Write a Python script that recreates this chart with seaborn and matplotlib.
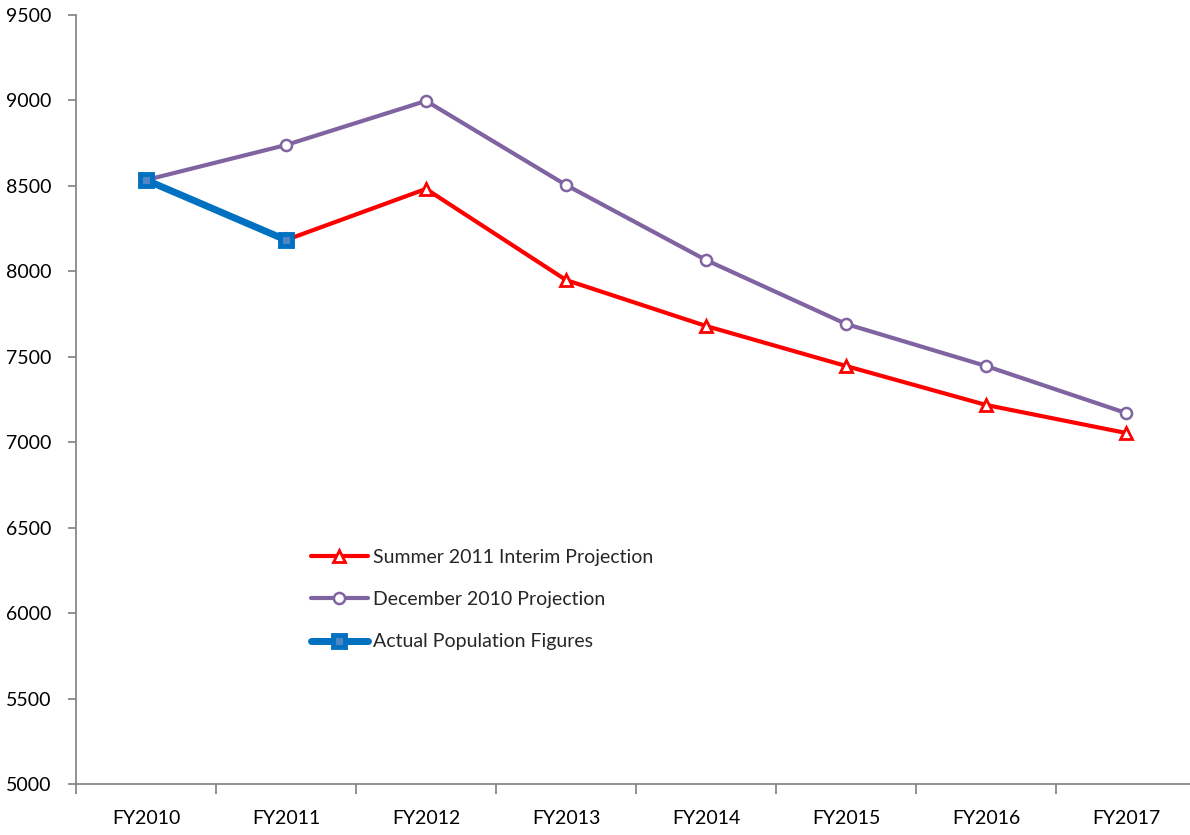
import numpy as np
import pandas as pd
import matplotlib
matplotlib.use("Agg")
import matplotlib.pyplot as plt
import seaborn as sns
from matplotlib.ticker import FixedLocator

sns.set_theme(style="white")
plt.rcParams['font.family'] = ['Lato', 'DejaVu Sans']

years = ['FY2010', 'FY2011', 'FY2012', 'FY2013', 'FY2014', 'FY2015', 'FY2016', 'FY2017']
summer_2011 = [np.nan, 8183, 8482, 7949, 7680, 7446, 7218, 7054]
december_2010 = [8534, 8739, 8997, 8505, 8066, 7692, 7446, 7171]
actual = [8534, 8183, np.nan, np.nan, np.nan, np.nan, np.nan, np.nan]

df = pd.DataFrame({
    'pos': np.arange(len(years)),
    'summer': summer_2011,
    'december': december_2010,
    'actual': actual,
})

fig = plt.figure(figsize=(11.9, 8.35), dpi=100)
ax = fig.add_axes([0.0639, 0.0611, 0.936, 0.921])

sns.lineplot(data=df, x='pos', y='summer', ax=ax, color='#FF0000', linewidth=3,
             marker='^', markersize=8, markerfacecolor='white', markeredgecolor='#FF0000',
             markeredgewidth=2, label='Summer 2011 Interim Projection')
sns.lineplot(data=df, x='pos', y='december', ax=ax, color='#8064A2', linewidth=3,
             marker='o', markersize=8, markerfacecolor='white', markeredgecolor='#8064A2',
             markeredgewidth=1.8, label='December 2010 Projection')
sns.lineplot(data=df, x='pos', y='actual', ax=ax, color='#0070C0', linewidth=5,
             marker='s', markersize=9, markerfacecolor='#4F86C6', markeredgecolor='#0070C0',
             markeredgewidth=3.5, label='Actual Population Figures')

ax.set_ylim(5000, 9500)
ax.set_yticks(np.arange(5000, 9501, 500))
ax.set_xlim(-0.5, 7.457)
ax.set_xticks(np.arange(len(years)))
ax.set_xticklabels(years)
ax.xaxis.set_minor_locator(FixedLocator(np.arange(-0.5, 8, 1)))
ax.set_xlabel('')
ax.set_ylabel('')

for side in ['top', 'right']:
    ax.spines[side].set_visible(False)
for side in ['left', 'bottom']:
    ax.spines[side].set_color('#888888')
    ax.spines[side].set_linewidth(1.3)

ax.tick_params(axis='y', which='major', direction='out', length=6, width=1.3,
               color='#888888', labelsize=14, pad=12, left=True, labelcolor='black')
ax.tick_params(axis='x', which='major', length=0, labelsize=14, pad=19, labelcolor='black')
ax.tick_params(axis='x', which='minor', direction='out', length=7, width=1.3,
               color='#888888', bottom=True)

ax.legend(loc='upper left', bbox_to_anchor=(0.255, 0.352), bbox_transform=fig.transFigure,
          frameon=False, fontsize=14, handlelength=2.9, handletextpad=0.3,
          labelspacing=1.3, borderaxespad=0)

fig.savefig('out.png', dpi=100)
